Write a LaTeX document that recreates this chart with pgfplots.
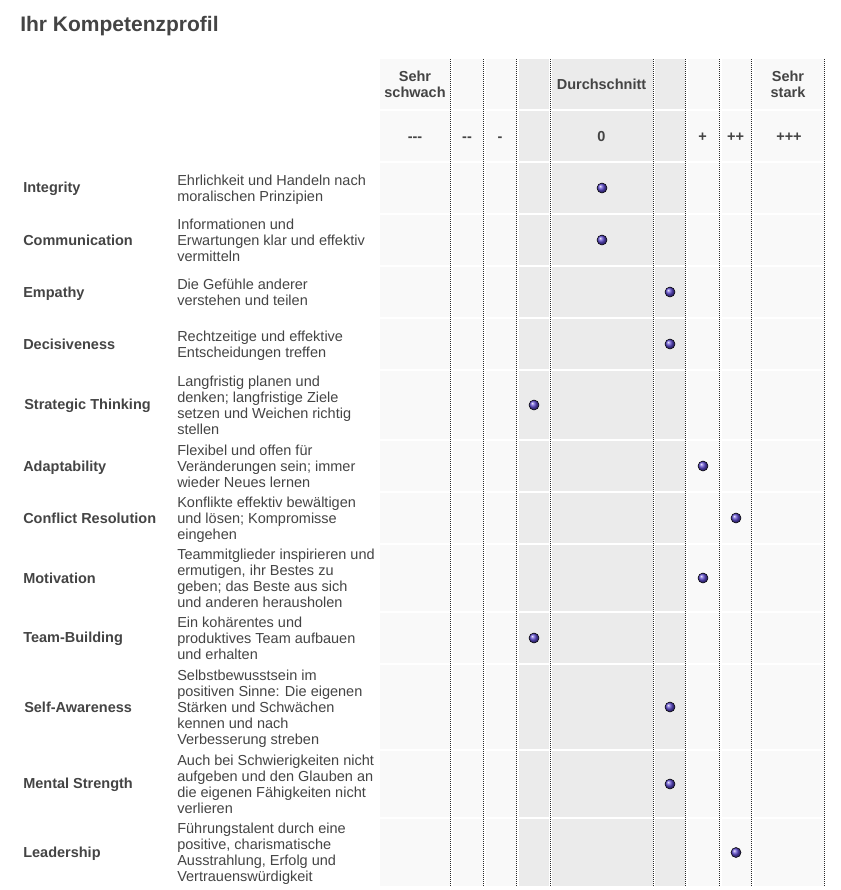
\documentclass[border=0pt]{standalone}
\usepackage{pgfplots}
\pgfplotsset{compat=1.18}
\usepackage{pgfplotstable}
\usepackage{fontspec}
\setmainfont{Liberation Sans}
\definecolor{txt}{RGB}{68,68,68}
\definecolor{cellL}{RGB}{249,249,249}
\definecolor{cellG}{RGB}{235,235,235}
\definecolor{ballc}{RGB}{92,72,205}
\definecolor{dotl}{RGB}{40,40,40}
\newcommand\st{\rule[-2.25pt]{0pt}{12pt}}
\newcommand\fr{\fontsize{10.875pt}{12pt}\selectfont\lineskiplimit=-100pt\lineskip=0pt}
\newcommand\fb{\fontsize{10.875pt}{12pt}\selectfont\bfseries\lineskiplimit=-100pt\lineskip=0pt}
% competence scores: x = centre of the scale column (pixels), y = centre of the row
\pgfplotstableread{
x y
602 188
602 240
670 292
670 344
534 405
703 466
736 518
703 578
534 638
670 707
670 784
736 852.5
}\scores
\tikzset{
  lab/.style={anchor=west, inner sep=0pt, text=txt, font=\fb, align=left},
  desc/.style={anchor=west, inner sep=0pt, text=txt, font=\fr, align=left},
  hd/.style={anchor=center, inner sep=0pt, text=txt, font=\fb, align=center},
  gap/.style={fill=white, draw=none},
  vdot/.style={dotl, line width=0.75pt, dash pattern=on 0.75pt off 0.75pt}
}
\begin{document}
\begin{tikzpicture}
\begin{axis}[scale only axis, width=630.75pt, height=667.5pt,
  xmin=0, xmax=841, ymin=0, ymax=890, y dir=reverse,
  hide axis, clip=false]
% full page extent
\path[draw=none, fill=none] (axis cs:0,0) rectangle (axis cs:841,890);
% cell backgrounds
\fill[cellL] (axis cs:380,59) rectangle (axis cs:824,886);
\fill[cellG] (axis cs:518.5,59) rectangle (axis cs:685,886);
% white gaps between rows
\fill[gap] (axis cs:380,109) rectangle (axis cs:824,111);
\fill[gap] (axis cs:380,161) rectangle (axis cs:824,163);
\fill[gap] (axis cs:380,213) rectangle (axis cs:824,215);
\fill[gap] (axis cs:380,265) rectangle (axis cs:824,267);
\fill[gap] (axis cs:380,317) rectangle (axis cs:824,319);
\fill[gap] (axis cs:380,369) rectangle (axis cs:824,371);
\fill[gap] (axis cs:380,439) rectangle (axis cs:824,441);
\fill[gap] (axis cs:380,491) rectangle (axis cs:824,493);
\fill[gap] (axis cs:380,543) rectangle (axis cs:824,545);
\fill[gap] (axis cs:380,611) rectangle (axis cs:824,613);
\fill[gap] (axis cs:380,663) rectangle (axis cs:824,665);
\fill[gap] (axis cs:380,749) rectangle (axis cs:824,751);
\fill[gap] (axis cs:380,817) rectangle (axis cs:824,819);
% white gaps between columns
\fill[gap] (axis cs:450,59) rectangle (axis cs:452.5,886);
\fill[gap] (axis cs:483,59) rectangle (axis cs:485.5,886);
\fill[gap] (axis cs:516,59) rectangle (axis cs:518.5,886);
\fill[gap] (axis cs:549,59) rectangle (axis cs:552,886);
\fill[gap] (axis cs:652.5,59) rectangle (axis cs:655,886);
\fill[gap] (axis cs:685,59) rectangle (axis cs:687.5,886);
\fill[gap] (axis cs:719,59) rectangle (axis cs:721.5,886);
\fill[gap] (axis cs:751,59) rectangle (axis cs:753.5,886);
% dotted column separators
\draw[vdot] (axis cs:450,59) -- (axis cs:450,886);
\draw[vdot] (axis cs:483,59) -- (axis cs:483,886);
\draw[vdot] (axis cs:516,59) -- (axis cs:516,886);
\draw[vdot] (axis cs:550,59) -- (axis cs:550,886);
\draw[vdot] (axis cs:653,59) -- (axis cs:653,886);
\draw[vdot] (axis cs:685,59) -- (axis cs:685,886);
\draw[vdot] (axis cs:719,59) -- (axis cs:719,886);
\draw[vdot] (axis cs:751,59) -- (axis cs:751,886);
\draw[vdot] (axis cs:824,59) -- (axis cs:824,886);
% title
\node[anchor=base west, inner sep=0pt, text=txt, font={\fontsize{15.75pt}{18pt}\selectfont\bfseries}] at (axis cs:20,31) {Ihr Kompetenzprofil};
% header rows
\node[hd] at (axis cs:415,84) {\st Sehr\\\st schwach};
\node[hd] at (axis cs:601.5,84) {\st Durchschnitt};
\node[hd] at (axis cs:788,84) {\st Sehr\\\st stark};
\node[hd] at (axis cs:415,136) {\st -\kern0pt-\kern0pt-};
\node[hd] at (axis cs:467,136) {\st -\kern0pt-};
\node[hd] at (axis cs:500,136) {\st -};
\node[hd] at (axis cs:601.5,136) {\st 0};
\node[hd] at (axis cs:702.5,136) {\st +};
\node[hd] at (axis cs:735.5,136) {\st ++};
\node[hd] at (axis cs:789,136) {\st +++};
% row labels
\node[lab] at (axis cs:23,188) {\st Integrity};
\node[lab] at (axis cs:23,240) {\st Communication};
\node[lab] at (axis cs:23,292) {\st Empathy};
\node[lab] at (axis cs:23,344) {\st Decisiveness};
\node[lab] at (axis cs:24,405) {\st Strategic Thinking};
\node[lab] at (axis cs:23,466) {\st Adaptability};
\node[lab] at (axis cs:23,518) {\st Conflict Resolution};
\node[lab] at (axis cs:23,578) {\st Motivation};
\node[lab] at (axis cs:23,638) {\st Team-Building};
\node[lab] at (axis cs:24,707) {\st Self-Awareness};
\node[lab] at (axis cs:23,784) {\st Mental Strength};
\node[lab] at (axis cs:23,852.5) {\st Leadership};
% descriptions
\node[desc] at (axis cs:177,188) {\st Ehrlichkeit und Handeln nach\\\st moralischen Prinzipien};
\node[desc] at (axis cs:177,240) {\st Informationen und\\\st Erwartungen klar und effektiv\\\st vermitteln};
\node[desc] at (axis cs:177,292) {\st Die Gefühle anderer\\\st verstehen und teilen};
\node[desc] at (axis cs:177,344) {\st Rechtzeitige und effektive\\\st Entscheidungen treffen};
\node[desc] at (axis cs:177,405) {\st Langfristig planen und\\\st denken; langfristige Ziele\\\st setzen und Weichen richtig\\\st stellen};
\node[desc] at (axis cs:177,466) {\st Flexibel und offen für\\\st Veränderungen sein; immer\\\st wieder Neues lernen};
\node[desc] at (axis cs:177,518) {\st Konflikte effektiv bewältigen\\\st und lösen; Kompromisse\\\st eingehen};
\node[desc] at (axis cs:177,578) {\st Teammitglieder inspirieren und\\\st ermutigen, ihr Bestes zu\\\st geben; das Beste aus sich\\\st und anderen herausholen};
\node[desc] at (axis cs:177,638) {\st Ein kohärentes und\\\st produktives Team aufbauen\\\st und erhalten};
\node[desc] at (axis cs:177,707) {\st Selbstbewusstsein im\\\st positiven Sinne: Die eigenen\\\st Stärken und Schwächen\\\st kennen und nach\\\st Verbesserung streben};
\node[desc] at (axis cs:177,784) {\st Auch bei Schwierigkeiten nicht\\\st aufgeben und den Glauben an\\\st die eigenen Fähigkeiten nicht\\\st verlieren};
\node[desc] at (axis cs:177,852.5) {\st Führungstalent durch eine\\\st positive, charismatische\\\st Ausstrahlung, Erfolg und\\\st Vertrauenswürdigkeit};
% score markers
\addplot[only marks, mark=ball, mark size=3.75pt, ball color=ballc,
  mark options={ball color=ballc}] table[x=x, y=y] {\scores};
\end{axis}
\end{tikzpicture}
\end{document}
